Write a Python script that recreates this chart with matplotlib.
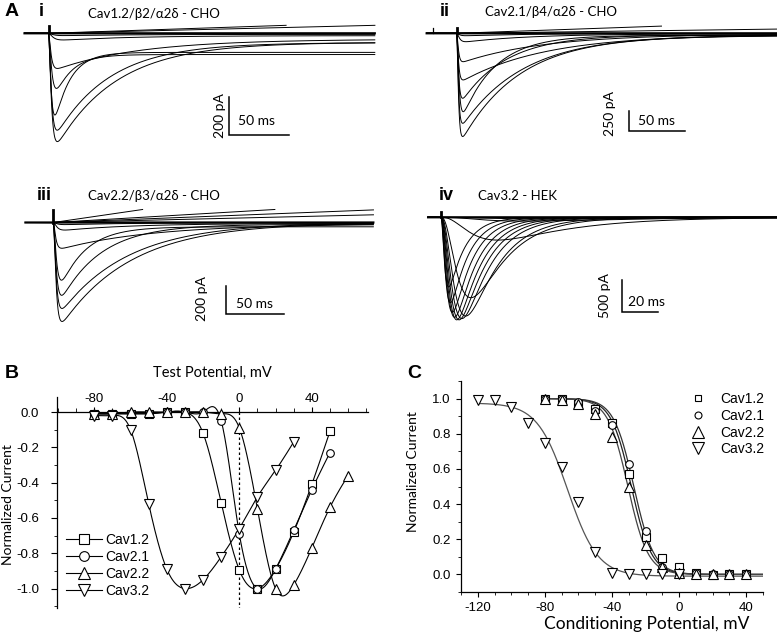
import numpy as np
import matplotlib
matplotlib.use("Agg")
import matplotlib.pyplot as plt
from matplotlib.lines import Line2D
from matplotlib.ticker import MultipleLocator

plt.rcParams['font.family'] = ['Liberation Sans', 'DejaVu Sans']
plt.rcParams['axes.unicode_minus'] = False
TXT = ['Lato', 'DejaVu Sans']

# ---------------- panel A: current traces ----------------
# each trace: peak amplitude (pA), activation tau (ms), inactivation tau (ms), residual fraction
i_amp = [570, 510, 430, 290, 185, 35, 12]
i_tact = [1.8, 1.8, 1.8, 2.2, 1.6, 3.0, 3.0]
i_tinact = [50, 45, 13, 14, 70, 60, 60]
i_resid = [0.07, 0.08, 0.15, 0.25, 0.15, 0.3, 0.4]
i_drift_end = [198, 272]          # outward traces: end time (ms), end value (pA)
i_drift_val = [42, 42]

ii_amp = [1290, 1125, 980, 812, 583, 355, 105, 30]
ii_tact = [1.2, 1.2, 1.6, 1.3, 1.2, 1.2, 2.0, 2.0]
ii_tinact = [52, 55, 30, 40, 75, 75, 60, 60]
ii_resid = [0.02, 0.02, 0.02, 0.02, 0.02, 0.02, 0.05, 0.05]
ii_drift_end = [184, 300]
ii_drift_val = [90, 55]

iii_amp = [707, 614, 520, 412, 184, 54, 15]
iii_tact = [1.8, 1.8, 2.0, 2.3, 1.6, 2.5, 2.5]
iii_tinact = [60, 58, 35, 22, 80, 60, 60]
iii_resid = [0.0, 0.0, 0.02, 0.05, 0.05, 0.1, 0.1]
iii_drift_end = [77, 191, 276, 276]
iii_drift_val = [93, 93, 90, 55]

iv_amp = [1100, 1350, 1500, 1580, 1620, 1620, 1600, 1560, 1270, 360, 60, 25]
iv_tact = [1.5, 1.9, 2.4, 3.0, 3.6, 4.3, 5.2, 6.3, 8.0, 14, 20, 25]
iv_tinact = [9, 10, 11, 12, 13, 14, 15, 17, 19, 40, 60, 80]

# scale bars: size in pA and ms
bar_pA = [200, 250, 200, 500]
bar_ms = [50, 50, 50, 20]
titles = ['Cav1.2/β2/α2δ - CHO', 'Cav2.1/β4/α2δ - CHO', 'Cav2.2/β3/α2δ - CHO', 'Cav3.2 - HEK']
romans = ['i', 'ii', 'iii', 'iv']

# ---------------- panel B: I-V ----------------
iv_x = [-80, -70, -60, -50, -40, -30, -20, -10, 0, 10, 20, 30, 40, 50, 60]
cav12_iv = [-0.01, -0.01, -0.01, -0.01, 0.0, 0.0, -0.12, -0.515, -0.895, -1.0, -0.89, -0.68, -0.41, -0.11]
cav21_iv = [-0.01, -0.01, -0.01, -0.01, 0.0, 0.0, 0.0, -0.05, -0.69, -1.0, -0.89, -0.67, -0.44, -0.23]
cav22_iv = [-0.01, -0.01, 0.0, 0.0, 0.0, 0.0, 0.0, -0.01, -0.09, -0.55, -1.0, -0.98, -0.77, -0.54, -0.36]
cav32_iv = [-0.02, -0.02, -0.10, -0.52, -0.89, -1.0, -0.95, -0.82, -0.66, -0.48, -0.33, -0.17]

# ---------------- panel C: steady-state inactivation ----------------
ss_x = [-120, -110, -100, -90, -80, -70, -60, -50, -40, -30, -20, -10, 0, 10, 20, 30, 40]
cav12_ss = [1.0, 1.0, 0.97, 0.94, 0.86, 0.57, 0.21, 0.095, 0.04, 0.01, -0.005, 0.0, 0.0]
cav21_ss = [1.0, 1.0, 0.98, 0.93, 0.85, 0.63, 0.245, 0.04, 0.01, 0.01, 0.0, 0.0, 0.0]
cav22_ss = [1.0, 0.99, 0.97, 0.91, 0.78, 0.50, 0.17, 0.04, 0.01, 0.0, 0.0, 0.0, 0.0]
cav32_ss = [0.99, 0.99, 0.95, 0.86, 0.75, 0.61, 0.41, 0.13, 0.01, 0.0, 0.0, 0.0, 0.0]
# Boltzmann fits: V1/2, k, top, bottom
fit_vhalf = [-28.5, -27.0, -30.5, -66.5]
fit_k = [6.0, 6.0, 6.0, 9.0]
fit_top = [1.0, 1.0, 1.0, 0.975]
fit_bot = [0.0, 0.0, 0.0, -0.01]

series = ['Cav1.2', 'Cav2.1', 'Cav2.2', 'Cav3.2']
markers = ['s', 'o', '^', 'v']
msizes = [5.5, 5.5, 7, 7]

W, H = 777, 633
fig = plt.figure(figsize=(W / 100, H / 100), dpi=100)


def px_axes(l, t, r, b):
    return fig.add_axes([l / W, 1 - b / H, (r - l) / W, (b - t) / H])


def ftext(x, y, s, **kw):
    fig.text(x / W, 1 - y / H, s, **kw)


def current(t, amp, tact, tinact, resid, power):
    tt = np.clip(t, 0, None)
    m = 1 - np.exp(-tt / tact)
    h = resid + (1 - resid) * np.exp(-tt / tinact)
    s = m ** power * h
    return -amp * s / s.max()


def trace_panel(box, x0, y0, pxms, pxpa, t0, t1, amps, tact, tinact, resid, power,
                dend, dval, spike, k):
    l, t, r, b = box
    ax = px_axes(l, t, r, b)
    ax.set_xlim((l - x0) / pxms, (r - x0) / pxms)
    ax.set_ylim(-(b - y0) / pxpa, (y0 - t) / pxpa)
    ax.set_axis_off()
    tt = np.arange(t0, t1, 0.1)
    for a, ta, ti, rr in zip(amps, tact, tinact, resid):
        ax.plot(tt, current(tt, a, ta, ti, rr, power), color='k', lw=0.7)
    for te, v in zip(dend, dval):
        ax.plot([0, te], [0, v], color='k', lw=0.7)
    ax.plot(tt, np.zeros_like(tt), color='k', lw=1.6)
    ax.plot([0, 0], [0, spike], color='k', lw=2)
    return ax


def scale_bar(ax, bx, by, k):
    # bx, by: corner in pixels
    x0, y0, pxms, pxpa = ax._map
    tc = (bx - x0) / pxms
    ic = -(by - y0) / pxpa
    ax.plot([tc, tc, tc + bar_ms[k]], [ic + bar_pA[k], ic, ic], color='k', lw=1.1,
            solid_joinstyle='miter')


boxes = [(20, 22, 385, 155), (405, 22, 777, 155), (20, 195, 385, 335), (405, 195, 777, 335)]
maps = [(48.5, 33.3, 1.2, 0.19), (456.7, 33.3, 1.113, 0.08),
        (53.3, 222.5, 1.16, 0.14), (440.7, 217.3, 1.8, 0.0633)]

axs = []
ax = trace_panel(boxes[0], *maps[0], -20, 272, i_amp, i_tact, i_tinact, i_resid, 2,
                 i_drift_end, i_drift_val, 40, 0)
axs.append(ax)
ax = trace_panel(boxes[1], *maps[1], -27, 300, ii_amp, ii_tact, ii_tinact, ii_resid, 2,
                 ii_drift_end, ii_drift_val, 60, 1)
ax.plot([-21, -21], [0, 60], color='k', lw=0.9)
axs.append(ax)
ax = trace_panel(boxes[2], *maps[2], -24, 276, iii_amp, iii_tact, iii_tinact, iii_resid, 2,
                 iii_drift_end, iii_drift_val, 90, 2)
axs.append(ax)
ax = trace_panel(boxes[3], *maps[3], -7, 200, iv_amp, iv_tact, iv_tinact,
                 [0.0] * len(iv_amp), 3, [], [], 80, 3)
axs.append(ax)

corners = [(229.3, 135), (629.3, 131), (226, 314), (622.3, 312)]
for k, ax in enumerate(axs):
    ax._map = maps[k]
    scale_bar(ax, corners[k][0], corners[k][1], k)

pa_lab = [(220, 116), (610, 113), (201.5, 299), (605, 296)]
ms_lab = [(257, 121), (657, 121), (255, 304), (647, 302)]
for k in range(4):
    ftext(*pa_lab[k], f'{bar_pA[k]} pA', rotation=90, ha='center', va='center',
          family=TXT, fontsize=10)
    ftext(*ms_lab[k], f'{bar_ms[k]} ms', ha='center', va='center', family=TXT, fontsize=10)

title_pos = [(88, 14), (485, 12), (88, 196), (478, 196)]
roman_pos = [(39, 12), (440, 11), (37, 196), (439, 195)]
for k in range(4):
    ftext(*title_pos[k], titles[k], ha='left', va='center', family=TXT, fontsize=9.5)
    ftext(*roman_pos[k], romans[k], ha='left', va='center', fontweight='bold', fontsize=13)
ftext(5, 12, 'A', ha='left', va='center', fontweight='bold', fontsize=14)
ftext(5, 373, 'B', ha='left', va='center', fontweight='bold', fontsize=14)
ftext(407, 373, 'C', ha='left', va='center', fontweight='bold', fontsize=14)


# ---------------- panel B ----------------
def natural_spline(x, y, n=400):
    x = np.asarray(x, float)
    y = np.asarray(y, float)
    k = len(x)
    h = np.diff(x)
    A = np.zeros((k, k))
    rhs = np.zeros(k)
    A[0, 0] = A[-1, -1] = 1
    for i in range(1, k - 1):
        A[i, i - 1] = h[i - 1]
        A[i, i] = 2 * (h[i - 1] + h[i])
        A[i, i + 1] = h[i]
        rhs[i] = 6 * ((y[i + 1] - y[i]) / h[i] - (y[i] - y[i - 1]) / h[i - 1])
    M = np.linalg.solve(A, rhs)
    xs = np.linspace(x[0], x[-1], n)
    j = np.clip(np.searchsorted(x, xs) - 1, 0, k - 2)
    hj = h[j]
    a = x[j + 1] - xs
    b = xs - x[j]
    ys = (M[j] * a ** 3 + M[j + 1] * b ** 3) / (6 * hj) \
        + (y[j] / hj - M[j] * hj / 6) * a + (y[j + 1] / hj - M[j + 1] * hj / 6) * b
    return xs, ys


axB = px_axes(57, 397, 368, 608)
axB.set_xlim(-100.6, 71)
axB.set_ylim(-1.11, 0.085)
for s in ['right', 'bottom']:
    axB.spines[s].set_visible(False)
axB.spines['top'].set_position(('data', 0))
axB.spines['top'].set_linewidth(0.9)
axB.spines['left'].set_linewidth(0.9)
axB.xaxis.set_ticks_position('top')
axB.set_xticks([-80, -40, 0, 40])
axB.xaxis.set_minor_locator(MultipleLocator(10))
axB.set_yticks([0, -0.2, -0.4, -0.6, -0.8, -1.0])
axB.set_yticklabels(['0.0', '-0.2', '-0.4', '-0.6', '-0.8', '-1.0'])
axB.yaxis.set_minor_locator(MultipleLocator(0.1))
axB.tick_params(axis='x', which='major', direction='out', length=3.5, pad=1.5, labelsize=9.5)
axB.tick_params(axis='x', which='minor', direction='out', length=3)
axB.tick_params(axis='y', which='major', direction='out', length=4, pad=9, labelsize=9.5)
axB.tick_params(axis='y', which='minor', direction='out', length=2.5)
axB.plot([0, 0], [0, -1.11], color='k', lw=0.9, ls=(0, (2, 2)))

handles = []
for k, ys in enumerate([cav12_iv, cav21_iv, cav22_iv, cav32_iv]):
    xs = iv_x[:len(ys)]
    sx, sy = natural_spline(xs, ys)
    axB.plot(sx, sy, color='k', lw=0.8, zorder=2)
    axB.plot(xs, ys, ls='none', marker=markers[k], ms=msizes[k], mfc='white', mec='k',
             mew=0.8, zorder=3)
    handles.append(Line2D([], [], color='k', lw=0.8, marker=markers[k], ms=msizes[k] + 1.5,
                          mfc='white', mec='k', mew=0.8))
axB.legend(handles, series, loc='upper left', bbox_to_anchor=(66 / W, 1 - 533 / H),
           bbox_transform=fig.transFigure, frameon=False, handlelength=2.6,
           handletextpad=0.25, labelspacing=0.22, borderpad=0, borderaxespad=0, fontsize=10)
ftext(212, 373, 'Test Potential, mV', ha='center', va='center', family=TXT, fontsize=10.5)
ftext(8, 505, 'Normalized Current', ha='center', va='center', rotation=90, family=TXT,
      fontsize=10)

# ---------------- panel C ----------------
axC = px_axes(461, 381, 763, 592)
axC.set_xlim(-130, 50)
axC.set_ylim(-0.1, 1.1)
for s in ['right', 'top']:
    axC.spines[s].set_visible(False)
axC.spines['left'].set_linewidth(0.9)
axC.spines['bottom'].set_linewidth(0.9)
axC.set_xticks([-120, -80, -40, 0, 40])
axC.xaxis.set_minor_locator(MultipleLocator(10))
axC.set_yticks([0, 0.2, 0.4, 0.6, 0.8, 1.0])
axC.set_yticklabels(['0.0', '0.2', '0.4', '0.6', '0.8', '1.0'])
axC.yaxis.set_minor_locator(MultipleLocator(0.1))
axC.tick_params(which='major', direction='out', length=3.5, pad=4, labelsize=9.5)
axC.tick_params(which='minor', direction='out', length=2.5)

fit_start = [-80, -80, -80, -120]
fit_col = ['#222222', '#333333', '#444444', '#555555']
handlesC = []
for k, ys in enumerate([cav12_ss, cav21_ss, cav22_ss, cav32_ss]):
    xs = ss_x[-len(ys):] if k < 3 else ss_x[:len(ys)]
    vv = np.linspace(fit_start[k], 50, 300)
    ff = fit_bot[k] + (fit_top[k] - fit_bot[k]) / (1 + np.exp((vv - fit_vhalf[k]) / fit_k[k]))
    axC.plot(vv, ff, color=fit_col[k], lw=0.9, zorder=2)
    axC.plot(xs, ys, ls='none', marker=markers[k], ms=msizes[k], mfc='white', mec='k',
             mew=0.8, zorder=3)
    handlesC.append(Line2D([], [], ls='none', marker=markers[k], ms=msizes[k] - 0.5 if k < 2 else 8,
                           mfc='white', mec='k', mew=0.8))
axC.legend(handlesC, series, loc='upper left', bbox_to_anchor=(691 / W, 1 - 392 / H),
           bbox_transform=fig.transFigure, frameon=False, handlelength=1.0,
           handletextpad=1.1, labelspacing=0.2, borderpad=0, borderaxespad=0, fontsize=10)
ftext(413, 472, 'Normalized Current', ha='center', va='center', rotation=90, family=TXT,
      fontsize=10)
ftext(647, 624, 'Conditioning Potential, mV', ha='center', va='center', family=TXT,
      fontsize=12.5)

fig.savefig('out.png', dpi=100)
